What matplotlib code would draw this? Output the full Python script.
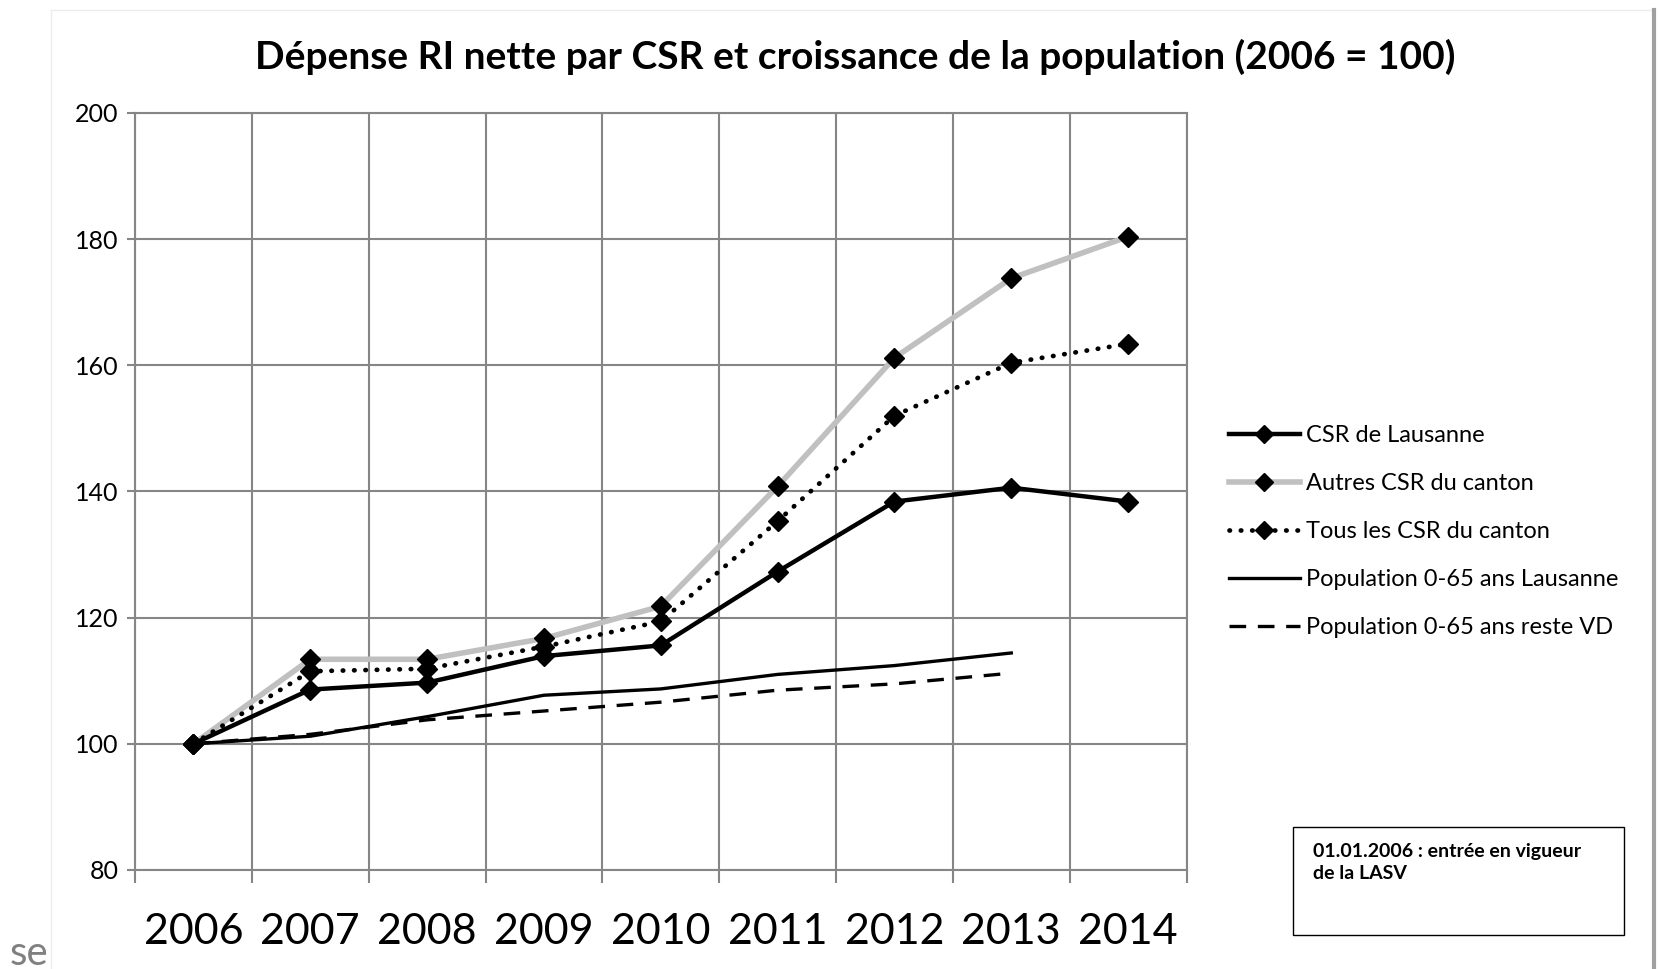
import numpy as np
import matplotlib.pyplot as plt
from matplotlib.lines import Line2D

plt.rcParams['font.family'] = ['Lato', 'DejaVu Sans']

years = ['2006', '2007', '2008', '2009', '2010', '2011', '2012', '2013', '2014']
csr_lausanne = [100, 108.6, 109.7, 113.9, 115.6, 127.3, 138.4, 140.6, 138.4]
autres_csr = [100, 113.4, 113.4, 116.7, 121.8, 140.8, 161.2, 173.8, 180.4]
tous_csr = [100, 111.5, 111.9, 115.4, 119.4, 135.3, 152.0, 160.4, 163.4]
pop_lausanne = [100, 101.2, 104.3, 107.7, 108.7, 111.0, 112.4, 114.4]
pop_reste_vd = [100, 101.5, 103.8, 105.2, 106.6, 108.5, 109.5, 111.2]

x = np.arange(len(years))

fig = plt.figure(figsize=(16.59, 9.69), dpi=100)
ax = fig.add_axes([0.0814, 0.1022, 0.6338, 0.7812])

# series
ax.plot(x, autres_csr, color='#c0c0c0', lw=4, marker='D', ms=10,
        mfc='black', mec='black', zorder=3, label='Autres CSR du canton')
ax.plot(x, tous_csr, color='black', lw=3.4, ls=(0, (0.1, 2.3)), dash_capstyle='round',
        marker='D', ms=10, mfc='black', mec='black', zorder=4, label='Tous les CSR du canton')
ax.plot(x, csr_lausanne, color='black', lw=3.2, marker='D', ms=10,
        zorder=5, label='CSR de Lausanne')
ax.plot(x[:len(pop_lausanne)], pop_lausanne, color='black', lw=2.4, zorder=3,
        label='Population 0-65 ans Lausanne')
ax.plot(x[:len(pop_reste_vd)], pop_reste_vd, color='black', lw=2.4, ls=(0, (5, 3.5)),
        zorder=3, label='Population 0-65 ans reste VD')

ax.set_xlim(-0.5, len(years) - 0.5)
ax.set_ylim(80, 200)
ax.set_yticks(np.arange(80, 201, 20))
ax.set_xticks(x)
ax.set_xticklabels(years, fontsize=31)
ax.set_xticks(np.arange(-0.5, len(years), 1), minor=True)
ax.tick_params(axis='x', which='major', length=0, pad=31)
ax.tick_params(axis='x', which='minor', length=9, width=1.5, color='#868686')
ax.tick_params(axis='y', length=6, width=1.5, color='#868686', labelsize=18, pad=6)
ax.grid(True, which='minor', axis='x', color='#868686', lw=1.5)
ax.grid(True, which='major', axis='y', color='#868686', lw=1.5)
for s in ax.spines.values():
    s.set_color('#868686')
    s.set_linewidth(1.5)

ax.set_title('Dépense RI nette par CSR et croissance de la population (2006 = 100)',
             fontsize=28, fontweight='bold', pad=32, x=0.685)

# legend
handles = [
    Line2D([], [], color='black', lw=3.2, marker='D', ms=9),
    Line2D([], [], color='#c0c0c0', lw=4, marker='D', ms=9, mfc='black', mec='black'),
    Line2D([], [], color='black', lw=3.4, ls=(0, (0.1, 2.3)), dash_capstyle='round',
           marker='D', ms=9),
    Line2D([], [], color='black', lw=2.4),
    Line2D([], [], color='black', lw=2.4, ls=(0, (5, 3.5))),
]
labels = ['CSR de Lausanne', 'Autres CSR du canton', 'Tous les CSR du canton',
          'Population 0-65 ans Lausanne', 'Population 0-65 ans reste VD']
fig.legend(handles, labels, loc='upper left', bbox_to_anchor=(0.735, 0.571),
           frameon=False, fontsize=17, handlelength=3.0, handletextpad=0.25,
           labelspacing=1.14, borderaxespad=0)

# note box
fig.patches.append(plt.Rectangle((0.7794, 0.0351), 0.1995, 0.1115,
                                 transform=fig.transFigure, fill=False,
                                 edgecolor='black', lw=1))
fig.text(0.7915, 0.1305, '01.01.2006 : entrée en vigueur\nde la LASV', fontsize=14,
         fontweight='bold', va='top', linespacing=1.4)

# frame remnants
fig.add_artist(Line2D([0.031, 0.031], [0.0, 0.99], color='#ececec', lw=1))
fig.add_artist(Line2D([0.031, 0.997], [0.99, 0.99], color='#ececec', lw=1))
fig.add_artist(Line2D([0.997, 0.997], [0.0, 0.99], color='#a0a0a0', lw=3))
fig.text(0.006, 0.004, 'se', fontsize=29, color='#808080')

fig.savefig('out.png', dpi=100)
